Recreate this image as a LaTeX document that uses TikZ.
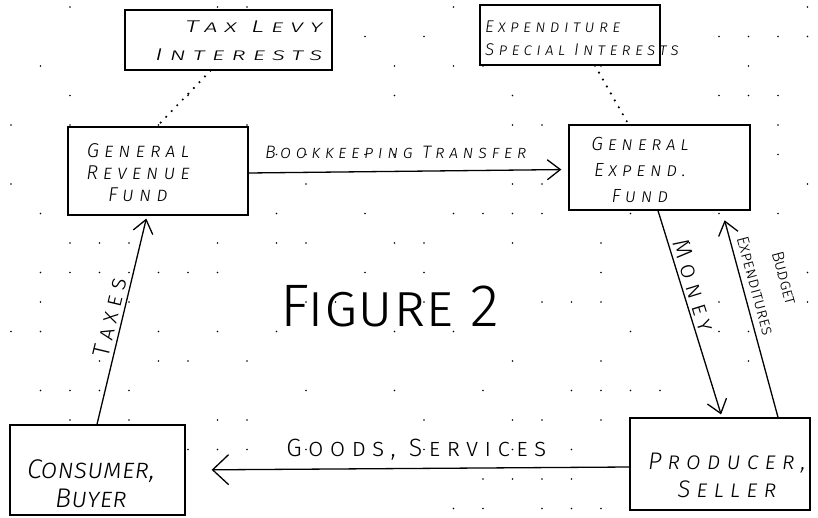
\documentclass[tikz,border=0pt]{standalone}
\usepackage{fontspec}
\newfontfamily\hand{Fira Sans Light}[LetterSpace=25]
\newfontfamily\handplain{Fira Sans Light}
\usetikzlibrary{arrows.meta}

\tikzset{
  box/.style = {draw, line width = 1.3pt, fill = white, inner sep = 0pt},
  boxtext/.style = {inner sep = 0pt, align = center},
  flow/.style = {line width = 1.3pt, -{Straight Barb[length = 13pt, width = 20pt, line width = 1.3pt]}},
  link/.style = {line width = 2.4pt, line cap = round, dash pattern = on 0pt off 8pt},
  flowlabel/.style = {inner sep = 3pt, font = \hand\scshape\fontsize{24}{26}\selectfont}
}

\begin{document}
\begin{tikzpicture}[x = 1pt, y = -1pt]
\useasboundingbox (0,0) rectangle (818,518);
% graph paper dots
\pgfmathsetseed{11}
\foreach \i in {0,...,27} {
  \foreach \j in {0,...,17} {
    \pgfmathparse{rnd < 0.3}
    \ifnum\pgfmathresult=1
      \fill (11+29.5*\i, 7+29.5*\j) circle (0.9pt);
    \fi
  }
}

% boxes
\node[box, minimum width = 207pt, minimum height = 60pt] (tax) at (228.5,40) {};
\node[box, minimum width = 180pt, minimum height = 60pt] (exp) at (570,35) {};
\node[box, minimum width = 180pt, minimum height = 88pt] (grf) at (158,171) {};
\node[box, minimum width = 181pt, minimum height = 85pt] (gef) at (659.5,167.5) {};
\node[box, minimum width = 175pt, minimum height = 90pt] (cons) at (97.5,470) {};
\node[box, minimum width = 180pt, minimum height = 92pt] (prod) at (720,464) {};

% box texts
\node[boxtext, anchor = east, align = right, transform shape, xscale = 1.6, font = \hand\itshape\scshape\fontsize{17}{28}\selectfont] (taxtext) at (323,41) {Tax Levy\\Interests};
\node[boxtext, anchor = west, align = left, font = \hand\itshape\scshape\fontsize{17}{23}\selectfont] (exptext) at (485,38) {Expenditure\\Special Interests};
\node[boxtext, font = \hand\itshape\scshape\fontsize{20}{22}\selectfont] (grftext) at (138,173) {General\\Revenue\\Fund};
\node[boxtext, font = \hand\itshape\scshape\fontsize{19}{26}\selectfont] (geftext) at (640,170) {General\\Expend.\\Fund};
\node[boxtext, font = \handplain\itshape\scshape\fontsize{27}{29}\selectfont] (constext) at (91,484) {Consumer,\\Buyer};
\node[boxtext, font = \hand\itshape\scshape\fontsize{24}{28}\selectfont] (prodtext) at (727,475) {Producer,\\Seller};

% title
\node[font = \handplain\scshape\fontsize{60}{66}\selectfont, inner sep = 0pt] (title) at (390,306) {Figure 2};

% interest links
\draw[link] ([xshift = -18pt]tax.south) -- ([xshift = -1pt]grf.north);
\draw[link] ([xshift = 25pt]exp.south) -- ([xshift = -31pt]gef.north);

% flows
\draw[flow, shorten >= 7pt] ([yshift = -2pt]grf.east) -- ([yshift = -2pt]gef.west)
  node[flowlabel, pos = 0.46, above = 9pt, font = \hand\itshape\scshape\fontsize{18}{20}\selectfont] (booklabel) {Bookkeeping Transfer};
\draw[flow, shorten >= 3pt] ([xshift = -0.5pt]cons.north) -- ([xshift = -11pt]grf.south)
  node[flowlabel, midway, above, sloped] (taxlabel) {Taxes};
\draw[flow, shorten >= 3pt] ([xshift = -1.5pt]gef.south) -- ([xshift = 2pt]prod.north)
  node[flowlabel, pos = 0.38, above, sloped] (moneylabel) {Money};
\draw[line width = 1.3pt, {Straight Barb[length = 13pt, width = 20pt, line width = 1.3pt]}-, shorten <= 10pt] ([xshift = 62.5pt]gef.south) -- ([xshift = 58pt]prod.north)
  node[flowlabel, pos = 0.38, above = 3pt, sloped, align = center, font = \handplain\scshape\fontsize{17}{30}\selectfont] (budgetlabel) {Budget\\Expenditures};
\draw[flow, shorten >= 26pt, -{Straight Barb[length = 16pt, width = 30pt, line width = 1.3pt]}] ([yshift = -3pt]prod.west) -- (cons.east)
  node[flowlabel, pos = 0.48, above = 5pt, font = \hand\scshape\fontsize{25}{28}\selectfont] (goodslabel) {Goods, Services};
\end{tikzpicture}
\end{document}
